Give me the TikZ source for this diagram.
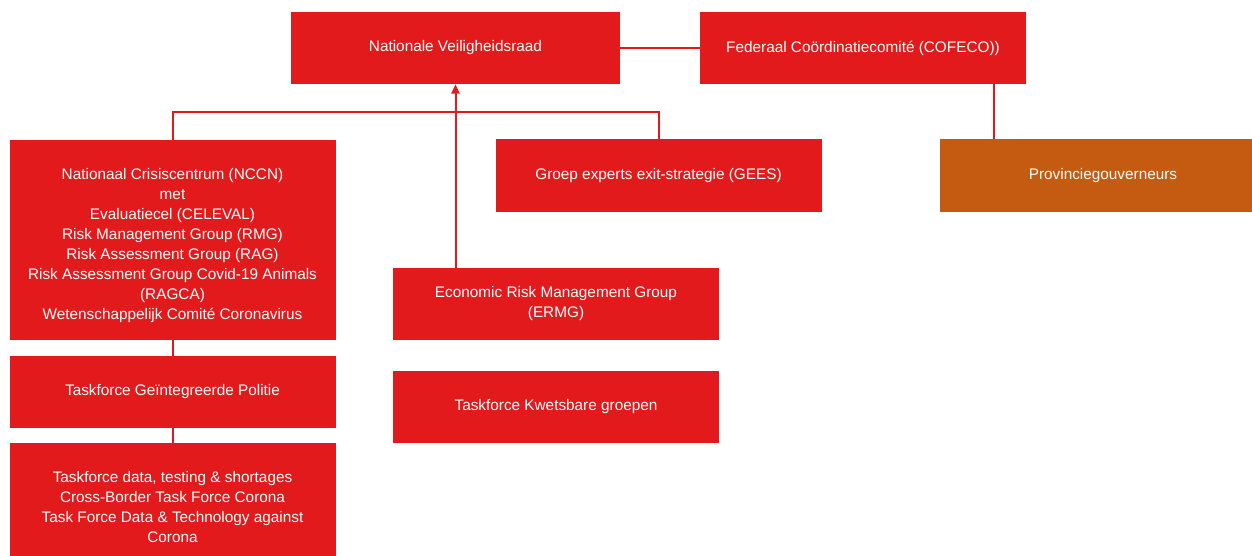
\documentclass[tikz,border=0pt]{standalone}
\usepackage{fontspec}
\setmainfont{Liberation Sans}
\usepackage{tikz}
\usetikzlibrary{arrows.meta,positioning}
\definecolor{orgred}{RGB}{227,26,28}
\definecolor{orgorange}{RGB}{197,90,17}
\tikzset{
  unitbox/.style={fill=orgred,text=white,align=center,inner sep=0pt,
    minimum width=244.5pt,minimum height=54pt,
    font=\fontsize{11.5}{15}\selectfont},
  link/.style={draw=orgred,line width=1.5pt}
}

\begin{document}
\begin{tikzpicture}[x=0.75pt,y=-0.75pt]
  \useasboundingbox (0,0) rectangle (1252,556);
  \clip (0,0) rectangle (1252,556);
  % top row
  \node[unitbox,minimum width=246.75pt] (nvr) at (455.5,48) {Nationale Veiligheidsraad};
  \node[unitbox] (cofeco) at (863,48) {Federaal Co\"ordinatiecomit\'e (COFECO))};
  \node[unitbox,fill=orgorange] (prov) at (1103,175.5) {Provinciegouverneurs};
  % left column
  \node[unitbox,minimum height=150pt] (nccn) at (172.5,240) {\rule{0pt}{16pt}Nationaal Crisiscentrum (NCCN)\\met\\Evaluatiecel (CELEVAL)\\Risk Management Group (RMG)\\Risk Assessment Group (RAG)\\Risk Assessment Group Covid-19 Animals\\(RAGCA)\\Wetenschappelijk Comit\'e Coronavirus};
  \node[unitbox] (politie) at (172.5,392) {Taskforce Ge\"integreerde Politie};
  \node[unitbox,minimum height=96.75pt] (data) at (172.5,507.5) {Taskforce data, testing \& shortages\\Cross-Border Task Force Corona\\Task Force Data \& Technology against\\Corona};
  % middle
  \node[unitbox] (gees) at (658.5,175.5) {Groep experts exit-strategie (GEES)};
  \node[unitbox] (ermg) at (556,304) {Economic Risk Management Group\\(ERMG)};
  \node[unitbox] (kwets) at (556,406.5) {Taskforce Kwetsbare groepen};

  \coordinate (bus) at (455,112);
  \coordinate (govx) at (994,0);
  \draw[link] (nccn.north) |- (bus) -| (gees.north);
  \draw[link,-{Triangle[length=7pt,width=6pt]}] (nvr.south |- ermg.north) -- (nvr.south);
  \draw[link] (nvr.east) -- (cofeco.west);
  \draw[link] (cofeco.south -| govx) -- (prov.north -| govx);
  \draw[link] (nccn.south) -- (politie.north);
  \draw[link] (politie.south) -- (data.north);
\end{tikzpicture}
\end{document}
